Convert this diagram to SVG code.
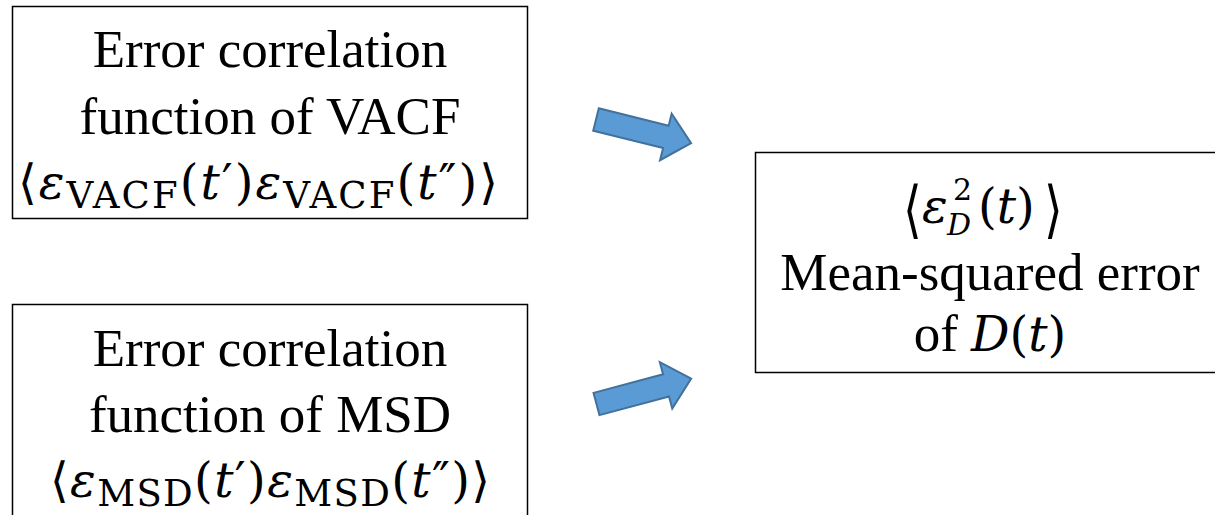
<svg xmlns="http://www.w3.org/2000/svg" width="1215" height="515" viewBox="0 0 1215 515">
  <defs>
    <style>
      .box { fill: #ffffff; stroke: #000000; stroke-width: 1.5; }
      .txt { font-family: "Liberation Serif", "Times New Roman", serif; font-size: 53px; fill: #000000; text-anchor: middle; }
      .math { font-family: "DejaVu Serif", "Liberation Serif", serif; font-size: 48px; fill: #000000; }
      .mid { text-anchor: middle; }
      .it { font-style: italic; }
      .sub { font-size: 37px; }
      .sm { font-size: 30px; }
      .arrow { fill: #5B9BD5; stroke: #41719C; stroke-width: 2; stroke-linejoin: miter; }
    </style>
    <!-- block arrow pointing along +x, tail at origin -->
    <path id="blockArrow" d="M0,-11.5 L72,-11.5 L72,-24 L98,0 L72,24 L72,11.5 L0,11.5 Z"/>
  </defs>
  <rect width="1215" height="515" fill="#ffffff"/>

  <g id="node-vacf">
    <rect class="box" x="12.5" y="6.5" width="515" height="212"/>
    <text class="txt" x="270" y="67">Error correlation</text>
    <text class="txt" x="270" y="134">function of VACF</text>
    <text class="math mid" x="258" y="199" textLength="480" lengthAdjust="spacing">⟨<tspan class="it">ε</tspan><tspan class="sub" dy="9">VACF</tspan><tspan dy="-9">(</tspan><tspan class="it">t</tspan>′)<tspan class="it">ε</tspan><tspan class="sub" dy="9">VACF</tspan><tspan dy="-9">(</tspan><tspan class="it">t</tspan>″)⟩</text>
  </g>

  <g id="node-msd">
    <rect class="box" x="12.5" y="304.5" width="515" height="230"/>
    <text class="txt" x="270" y="366">Error correlation</text>
    <text class="txt" x="270" y="432">function of MSD</text>
    <text class="math mid" x="270" y="497" textLength="440" lengthAdjust="spacing">⟨<tspan class="it">ε</tspan><tspan class="sub" dy="9">MSD</tspan><tspan dy="-9">(</tspan><tspan class="it">t</tspan>′)<tspan class="it">ε</tspan><tspan class="sub" dy="9">MSD</tspan><tspan dy="-9">(</tspan><tspan class="it">t</tspan>″)⟩</text>
  </g>

  <g id="node-mse">
    <rect class="box" x="755.5" y="152.5" width="480" height="220"/>
    <!-- stretched angle brackets around the squared error -->
    <text class="math" transform="translate(903,231) scale(1,1.3)">⟨</text>
    <text class="math" transform="translate(1044,231) scale(1,1.3)">⟩</text>
    <text class="math it" x="922" y="223">ε</text>
    <text class="math sm" x="953" y="200">2</text>
    <text class="math sm it" x="947" y="235">D</text>
    <text class="math" x="978" y="223">(<tspan class="it">t</tspan>)</text>
    <text class="txt" x="990" y="290">Mean-squared error</text>
    <text class="txt" x="990" y="351"><tspan>of </tspan><tspan class="math it" font-size="48">D</tspan><tspan class="math" font-size="48">(</tspan><tspan class="math it" font-size="48">t</tspan><tspan class="math" font-size="48">)</tspan></text>
  </g>

  <g id="connectors">
    <use href="#blockArrow" class="arrow" transform="translate(596,119.5) rotate(14)"/>
    <use href="#blockArrow" class="arrow" transform="translate(596.5,404) rotate(-15)"/>
  </g>
</svg>
